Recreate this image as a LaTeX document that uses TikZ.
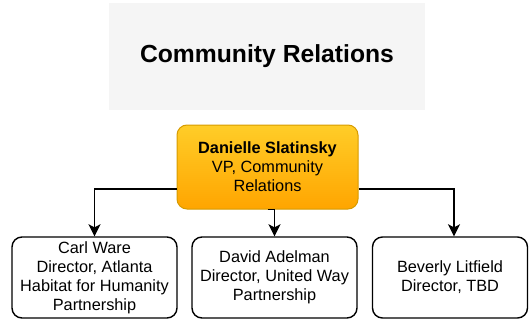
\documentclass[tikz,border=0pt]{standalone}
\usepackage{fontspec}
\setmainfont{Liberation Sans}
\usetikzlibrary{arrows.meta}
\definecolor{titlegray}{HTML}{F5F5F5}
\definecolor{vptop}{HTML}{FFCD28}
\definecolor{vpbottom}{HTML}{FFA500}
\definecolor{vpborder}{HTML}{D79B00}

\begin{document}
\begin{tikzpicture}[x=1pt, y=-1pt,
    person/.style={draw, line width=1.4pt, rounded corners=10pt, align=center,
        inner sep=0pt, minimum height=81pt, font=\fontsize{16.3}{19}\selectfont},
    link/.style={line width=1.7pt, -{Stealth[length=12pt, width=12pt, inset=3pt]}}]
    \useasboundingbox (0,0) rectangle (529,321);
    \node [fill=titlegray, minimum width=316pt, minimum height=107pt, inner sep=0pt,
        font=\fontsize{24.7}{29}\selectfont\bfseries] (title) at (267,56.5) {Community Relations};
    \node [person, top color=vptop, bottom color=vpbottom, draw=vpborder, line width=1pt,
        minimum width=181pt, minimum height=84pt] (vp) at (267.5,167)
        {\textbf{Danielle Slatinsky}\\VP, Community\\Relations};
    \node [person, minimum width=165pt] (ware) at (94.5,277.5)
        {Carl Ware\\Director, Atlanta\\Habitat for Humanity\\Partnership};
    \node [person, minimum width=165pt] (adelman) at (274.5,277.5)
        {David Adelman\\Director, United Way\\Partnership};
    \node [person, minimum width=155pt] (litfield) at (450,277.5)
        {Beverly Litfield\\Director, TBD};
    \draw [link] ([yshift=-22pt]vp.west) -| (ware.north);
    \draw [link] (vp.south) -| (adelman.north);
    \draw [link] ([yshift=-22pt]vp.east) -| ([xshift=4pt]litfield.north);
\end{tikzpicture}
\end{document}
